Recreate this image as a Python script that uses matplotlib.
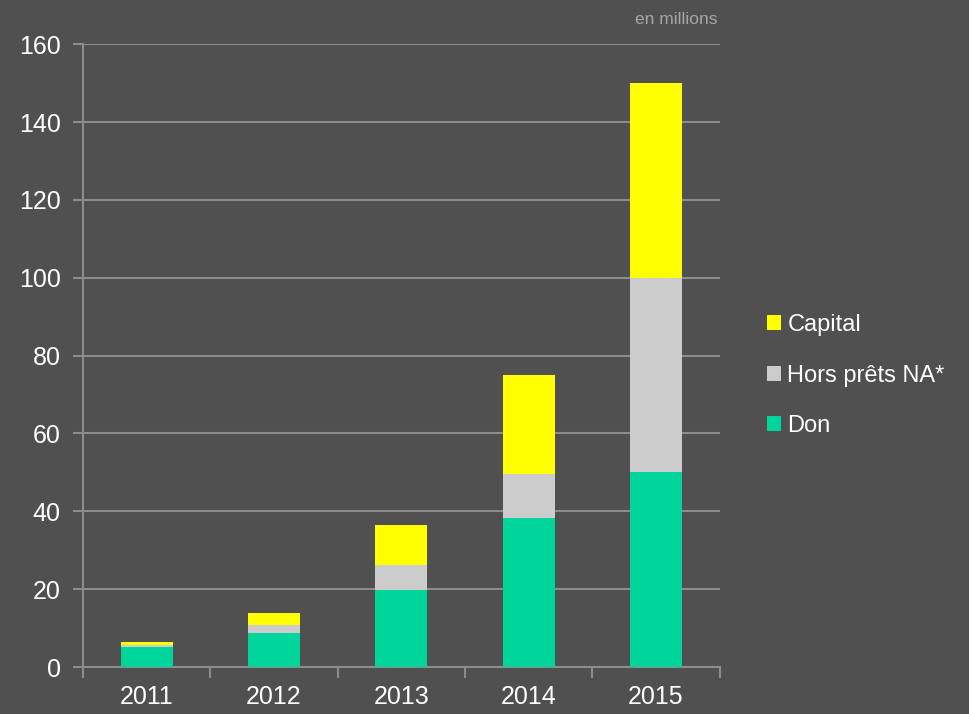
import numpy as np
import matplotlib
matplotlib.use("Agg")
import matplotlib.pyplot as plt

# values (millions)
years = ["2011", "2012", "2013", "2014", "2015"]
don = [5.2, 8.7, 19.8, 38.2, 50.0]
hors_prets = [0.4, 2.0, 6.3, 11.4, 50.0]
capital = [0.8, 3.3, 10.3, 25.4, 50.0]

bg = "#505050"
grid_col = "#8c8c8c"
plt.rcParams["font.family"] = ["Liberation Sans", "DejaVu Sans"]

fig = plt.figure(figsize=(9.69, 7.14), dpi=100, facecolor=bg)
ax = fig.add_axes([0.0857, 0.0658, 0.657, 0.8722], facecolor=bg)

x = np.arange(len(years))
w = 0.41

b1 = ax.bar(x, don, w, color="#00d69c", zorder=3)
bottom2 = np.array(don)
b2 = ax.bar(x, hors_prets, w, bottom=bottom2, color="#cccccc", zorder=3)
bottom3 = bottom2 + np.array(hors_prets)
b3 = ax.bar(x, capital, w, bottom=bottom3, color="#ffff00", zorder=3)

ax.set_xlim(-0.5, 4.5)
ax.set_ylim(0, 160)
ax.set_yticks(np.arange(0, 161, 20))
ax.set_xticks(x)
ax.set_xticklabels(years)
ax.set_xticks(np.arange(-0.5, 5, 1), minor=True)

ax.grid(axis="y", color=grid_col, linewidth=1.5, zorder=0)
ax.set_axisbelow(True)
for s in ["top", "right"]:
    ax.spines[s].set_visible(False)
for s in ["left", "bottom"]:
    ax.spines[s].set_color(grid_col)
    ax.spines[s].set_linewidth(1.5)

ax.tick_params(axis="y", colors="white", labelsize=18, length=7, width=1.5, color=grid_col, pad=9)
ax.tick_params(axis="x", which="major", colors="white", labelsize=18, length=0, pad=13)
ax.tick_params(axis="x", which="minor", length=8, width=1.5, color=grid_col)

fig.text(0.74, 0.972, "en millions", color="#a6a6a6", fontsize=12.5, ha="right", va="center")

leg = ax.legend([b3, b2, b1], ["Capital", "Hors prêts NA*", "Don"],
                loc="center left", bbox_to_anchor=(1.06, 0.468), frameon=False,
                fontsize=17, labelcolor="white", handlelength=0.6, handleheight=0.6,
                handletextpad=0.25, labelspacing=1.2, borderaxespad=0)

fig.savefig("out.png", dpi=100, facecolor=bg)
